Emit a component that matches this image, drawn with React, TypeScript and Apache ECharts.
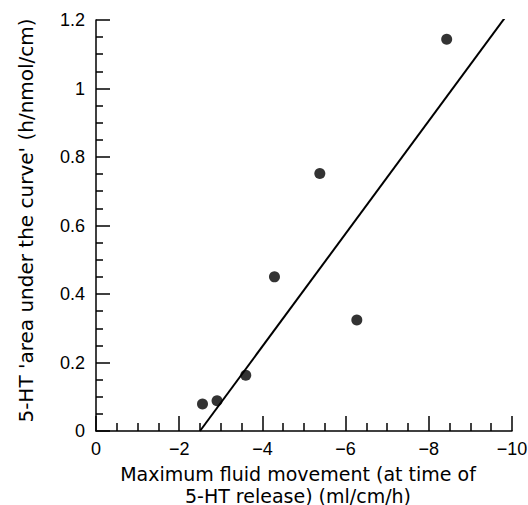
import React, { useEffect, useRef } from "react";
import * as echarts from "echarts";

const pointsX = [-2.56, -2.91, -3.6, -4.29, -5.38, -6.27, -8.43];
const pointsY = [0.079, 0.088, 0.163, 0.45, 0.752, 0.324, 1.144];
const fitX = [-2.5, -9.85];
const fitY = [0, 1.21];

const xTitle = "Maximum fluid movement (at time of\n5-HT release) (ml/cm/h)";
const yTitle = "5-HT 'area under the curve' (h/nmol/cm)";

export default function App() {
  const ref = useRef<HTMLDivElement>(null);
  useEffect(() => {
    if (!ref.current) return;
    const chart = echarts.init(ref.current, null, { renderer: "svg" });
    const font = "'Liberation Sans', Arial, Helvetica, sans-serif";
    const titleFont = "'DejaVu Sans', 'Liberation Sans', sans-serif";
    chart.setOption({
      animation: false,
      backgroundColor: "#ffffff",
      grid: { left: 96, right: 16, top: 20, bottom: 74, outerBoundsMode: "none", containLabel: false },
      xAxis: {
        type: "value",
        min: -10,
        max: 0,
        interval: 2,
        inverse: true,
        splitLine: { show: false },
        axisLine: { onZero: false, lineStyle: { color: "#000", width: 1.5 } },
        axisTick: { inside: true, length: 15, lineStyle: { color: "#000", width: 1.5 } },
        minorTick: { show: true, splitNumber: 4, length: 8, lineStyle: { color: "#000", width: 1.5 } },
        axisLabel: {
          color: "#000",
          fontSize: 18,
          fontFamily: font,
          margin: 9,
          formatter: (v: number) => (v === 0 ? "0" : "\u2212" + Math.abs(v)),
        },
        name: xTitle,
        nameLocation: "middle",
        nameGap: 30,
        nameTextStyle: {
          color: "#000",
          fontSize: 19,
          fontFamily: titleFont,
          lineHeight: 22,
          verticalAlign: "top",
          padding: [0, 12, 0, 0],
        },
      },
      yAxis: {
        type: "value",
        min: 0,
        max: 1.2,
        interval: 0.2,
        splitLine: { show: false },
        axisLine: { onZero: false, lineStyle: { color: "#000", width: 1.5 } },
        axisTick: { inside: true, length: 14, lineStyle: { color: "#000", width: 1.5 } },
        minorTick: { show: true, splitNumber: 4, length: 7, lineStyle: { color: "#000", width: 1.5 } },
        axisLabel: {
          color: "#000",
          fontSize: 18,
          fontFamily: font,
          margin: 11,
          formatter: (v: number) => String(parseFloat(v.toFixed(1))),
        },
        name: yTitle,
        nameLocation: "middle",
        nameGap: 60,
        nameTextStyle: { color: "#000", fontSize: 20, fontFamily: titleFont, padding: [0, 0, 0, 10] },
      },
      series: [
        {
          type: "line",
          data: fitX.map((x, i) => [x, fitY[i]]),
          showSymbol: false,
          symbol: "none",
          lineStyle: { color: "#000", width: 2 },
          silent: true,
        },
        {
          type: "scatter",
          data: pointsX.map((x, i) => [x, pointsY[i]]),
          symbol: "circle",
          symbolSize: 11,
          itemStyle: { color: "#000" },
        },
      ],
    });
    return () => chart.dispose();
  }, []);
  return <div ref={ref} style={{ width: 528, height: 505, position: "absolute", left: 0, top: 0 }} />;
}
